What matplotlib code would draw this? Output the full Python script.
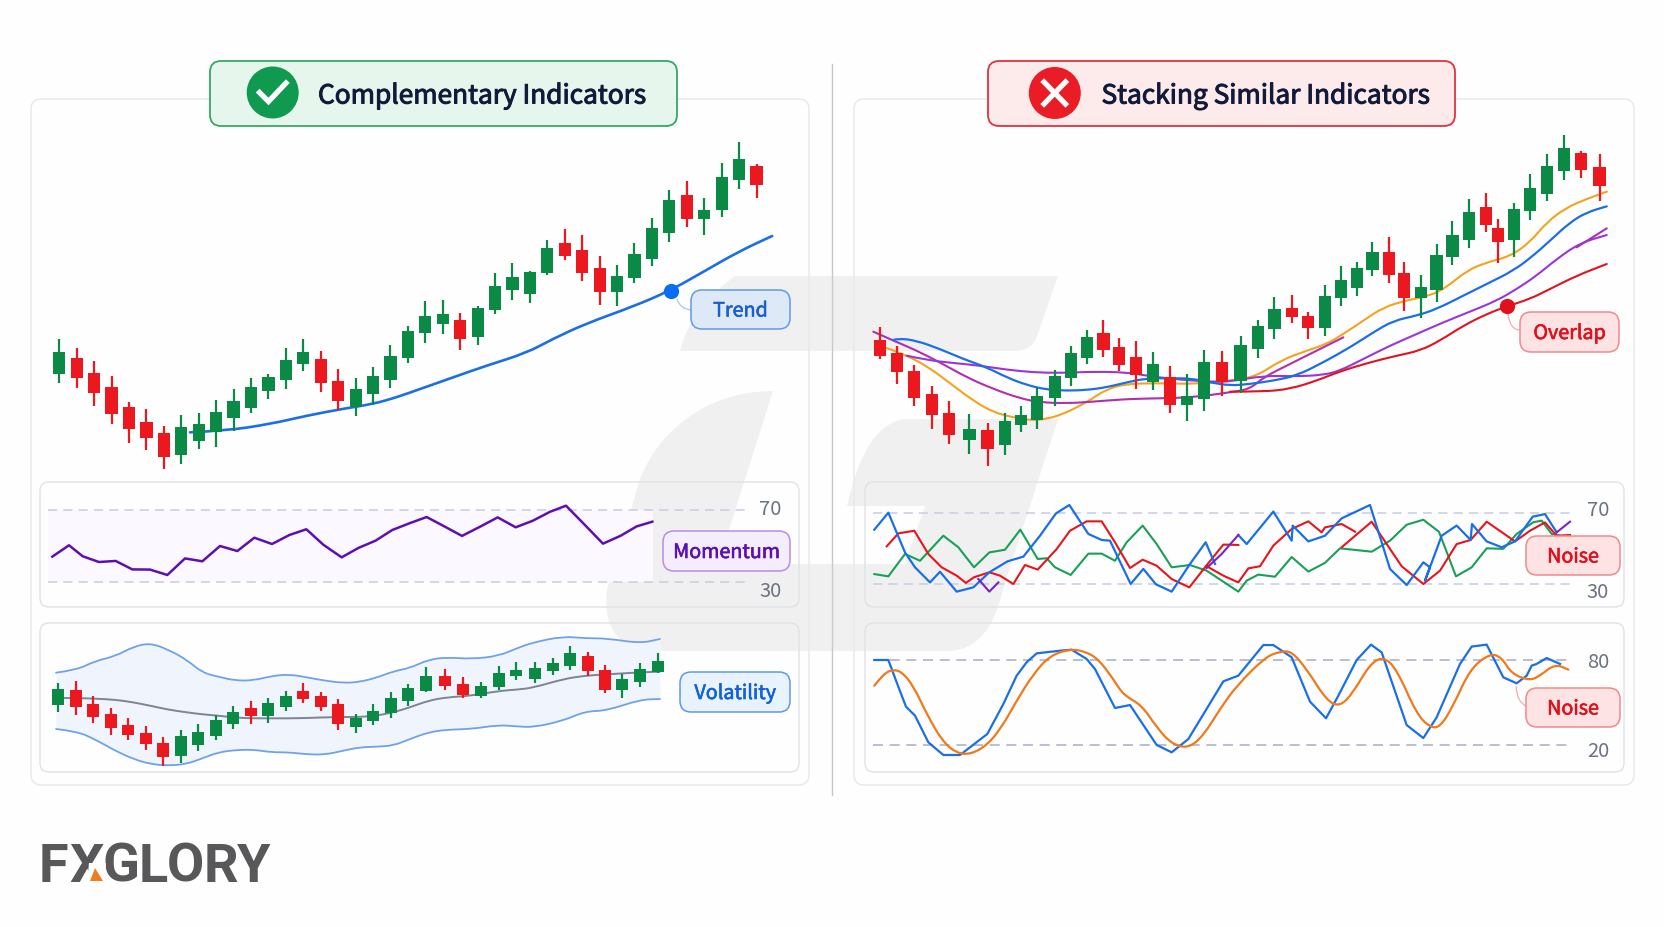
import numpy as np
import matplotlib
matplotlib.use("Agg")
import matplotlib.pyplot as plt
import matplotlib.patheffects as pe
from matplotlib.patches import FancyBboxPatch, PathPatch, Circle, Polygon
from matplotlib.path import Path

plt.rcParams['font.family'] = ['Noto Sans CJK SC', 'DejaVu Sans']

W, H = 1664, 928
UP = "#0a8a45"
DOWN = "#ec1820"
BLUE = "#1a6fe8"

# left price chart
left_open = [265,313,267,225,165,121,88,21,64,90,134,163,213,247,296,309,244,165,206,246,312,388,416,428,377,457,518,505,569,658,637,582,511,553,611,689,801,730,758,847,890]
left_high = [370,344,303,259,182,160,108,141,147,187,221,253,265,343,371,333,279,253,287,353,409,483,486,447,470,568,597,574,668,700,682,619,593,658,734,818,845,792,897,960,895]
left_low = [238,224,170,115,57,38,-19,-4,39,46,95,148,190,221,273,212,157,138,171,222,297,359,386,338,353,445,488,478,562,606,545,473,469,539,588,662,707,681,735,821,793]
left_close = [331,252,209,144,99,74,17,105,115,151,184,225,255,308,331,237,184,221,258,319,393,440,445,371,463,530,556,572,643,619,567,511,559,626,703,786,731,756,857,911,833]
trend_x = [7.5,9.6,12.1,14.2,16.2,18,19.35,20.7,22.6,24.5,26.8,28.3,30.25,32.9,35,36.9,39,40.9]
trend_y = [90,95,115,140,160,175,195,220,255,290,328,370,417,467,514,570,633,679]

# left momentum
mom_x = [67,117,158,207,257,307,360,412,465,517,570,622,673,726,778,829,880,935,985,1037,1087,1138,1190,1245,1296,1350,1403,1457,1508,1560,1608,1663,1719,1772,1820,1867]
mom_y = [44.1,50.4,44.3,41.1,41.7,37,36.9,33.9,43.1,41.5,50,47.2,54.6,51.1,56.1,59.3,50.7,43.7,48.9,53,58.9,62.6,66.1,60.7,55.6,60.7,65.9,60.4,64,69,72.4,62,51.3,55.7,60.9,63.5]

# left volatility
vol_x = list(range(22)) + [22.1,23.1,24.16,25.16,26.17,27.22,28.25,29.26,30.29,31.22,32.19,33.24,34.29]
vol_open = [322,368,326,294,263,239,207,169,202,229,266,312,288,316,363,348,326,256,275,298,333,365,408,386,350,375,408,401,423,440,468,428,366,390,422]
vol_high = [388,394,348,314,282,260,227,247,264,292,320,333,342,364,387,360,340,295,325,360,386,435,430,406,392,438,452,452,462,498,480,441,415,449,477]
vol_low = [300,292,267,232,218,186,140,148,184,217,251,266,267,305,328,303,248,239,262,282,320,360,366,344,342,368,398,389,411,428,409,358,342,375,417]
vol_close = [370,315,287,254,231,204,167,228,242,278,302,289,327,348,341,317,264,282,305,343,374,408,378,352,378,417,427,433,447,477,425,367,399,430,455]
band_x = [-0.13,1.05,2.10,3.24,4.29,5.24,6.29,7.33,8.23,9.14,10.13,11.18,12.19,13.2,14.19,15.24,16.29,17.2,18.19,19.14,20.1,21.14,22.19,23.62,25.15,26.19,27.15,28.86,30.1,31.34,33.24,34.38]
band_up = [419,427,454,468,497,508,488,458,419,407,395,396,409,414,405,395,388,391,404,423,433,458,465,460,469,492,510,528,522,522,507,520]
band_lo = [250,243,219,185,160,145,140,145,162,180,187,188,180,180,174,173,185,195,197,200,220,240,248,250,262,258,255,275,303,305,338,340]
band_mid = [343,343,341,338,330,320,308,300,294,290,284,282,282,282,283,285,286,286,290,300,315,335,345,350,364,368,374,400,410,414,420,422]

# right price chart
right_x = [0,1.02,2.04,3.08,4.12,5.34,6.42,7.46,8.42,9.40,10.46,11.42,12.40,13.36,14.30,15.32,16.35,17.33,18.35,19.39,20.47,21.57,22.60,23.60,24.63,25.63,26.65,27.59,28.53,29.47,30.44,31.38,32.36,33.31,34.26,35.26,36.28,36.99,37.93,38.91,39.91,40.93,41.95,43.07]
right_open = [337,297,243,175,117,38,67,21,83,96,162,223,284,358,317,287,210,227,141,159,272,213,310,370,432,409,373,463,494,547,600,537,462,488,585,638,736,673,638,725,774,843,898,857]
right_high = [377,320,263,199,153,114,87,117,140,192,247,320,366,396,342,334,302,259,236,307,304,348,398,466,471,420,501,559,572,631,647,571,531,625,693,759,779,701,749,836,895,953,905,896]
right_low = [280,204,138,71,24,-5,-40,-7,62,70,139,198,264,287,245,189,186,118,93,125,168,178,282,341,388,340,349,438,469,530,507,423,402,450,561,614,661,569,586,698,753,816,824,755]
right_close = [288,240,162,111,52,71,10,95,112,170,228,297,345,307,261,232,264,143,169,270,212,321,378,429,405,372,469,516,554,601,533,463,496,592,653,721,681,632,729,793,858,913,847,799]

ma_orange_x = [0.38,1.38,2.77,4.37,5.57,6.77,7.96,8.96,9.96,10.96,12.36,13.55,14.75,15.95,17.35,18.74,20.94,22.54,23.93,25.53,26.73,27.73,28.92,30.12,31.52,32.92,33.91,35.11,36.31,37.71,38.9,39.9,41.1,42.3,43.5]
ma_orange_y = [313,295,260,200,155,120,105,96,100,115,150,190,205,207,207,205,215,228,275,305,325,355,395,435,456,470,495,545,570,588,630,690,735,760,782]
ma_blue_x = [0.78,1.08,2.18,3.57,4.97,6.37,7.56,8.76,9.96,11.16,12.36,13.55,14.75,15.95,17.35,18.54,19.74,20.94,22.14,23.53,24.93,26.53,28.13,29.52,30.72,32.12,33.32,34.91,36.31,37.91,39.1,40.1,41.3,42.3,43.5]
ma_blue_y = [337,342,335,310,280,255,225,202,188,185,187,195,210,222,222,222,210,200,205,215,230,270,315,360,395,410,430,470,505,545,590,635,690,720,738]
ma_violet_x = [1.58,2.77,4.37,5.97,7.56,9.16,10.76,12.75,14.75,15.95,17.15,18.74,19.94,20.94,22.94,24.93,26.53,27.53,28.92,30.52,32.12,33.71,35.31,36.91,38.11,39.3,40.5,41.9,43.5]
ma_violet_y = [290,277,268,260,248,240,238,242,240,230,222,215,212,212,230,228,232,245,280,320,355,390,422,455,490,530,580,628,652]
ma_magenta_x = [-0.42,0.78,1.98,3.57,5.17,6.77,8.36,9.56,11.16,12.75,14.75,16.75,18.74,20.94,22.14,22.94,24.53,26.13,27.73,30,41.7,43.5]
ma_magenta_y = [362,335,310,270,225,190,162,150,147,152,160,162,165,180,190,225,265,305,345,np.nan,615,672]
ma_red_x = [20.94,22.94,24.53,26.13,27.53,29.32,30.92,32.32,33.51,34.91,36.31,37.51,38.9,40.1,41.7,43.5]
ma_red_y = [182,182,190,215,243,270,290,305,335,380,415,438,460,490,530,565]

# right rsi
rsi_blue_x = [43,85,135,165,210,240,290,340,388,443,490,540,588,628,685,725,750,812,850,888,935,990,1037,1065,1100,1135,1160,1240,1295,1298,1345,1395,1445,1530,1590,1640,1690,1710,1695,1745,1790,1832,1836,1880,1925,1965,2018,2055,2090]
rsi_blue_y = [60.6,70.2,47.8,39.4,30.9,36.9,25.7,28.1,36.6,42.8,45.4,57.2,69.8,74.5,58.2,54.8,54.4,30,38.5,29.8,25.7,41.3,53.5,41.3,np.nan,57.6,52.5,70.8,54.4,62.9,54,57.2,67,74.5,38.5,29.4,42.2,39.4,31.9,57.2,62.9,54.8,63.8,54,50.7,54,67.9,69.4,59.1]
rsi_green_x = [43,85,135,180,250,295,342,388,435,481,533,560,585,632,685,725,765,800,848,890,935,990,1040,1135,1160,1195,1245,1295,1345,1395,1440,1535,1590,1640,1690,1737,1788,1835,1880,1930,1970,2020,2045,2075,2100]
rsi_green_y = [35.6,34.3,46.9,43.1,57.2,50.7,39.4,47.8,49.3,60.6,44.1,44.5,39.4,35.1,47.1,47.1,43.1,53.5,62.9,52.5,39.4,40.7,37.5,25.7,31.9,35.3,34.1,45.2,37,41.9,50.1,48.2,54.4,63.4,66.2,59.4,34.3,39.4,50.1,49.8,58.2,64.8,65.7,58.2,57.2]
rsi_red_x = [80,115,163,205,245,290,318,342,388,420,460,495,533,590,630,680,725,765,810,848,890,935,988,1035,1090,1135,1138,1040,1090,1135,1165,1200,1240,1295,1345,1385,1395,1445,1485,1490,1445,1535,1625,1690,1740,1790,1832,1880,1965,2010,2055,2090,2130]
rsi_red_y = [51.2,58.5,60,46.9,39.4,34.7,30.6,33.8,36.6,34.7,30,40.7,38.1,49.7,60,65.3,65.3,53.5,39,43.7,40.3,32.8,28.1,39.4,52.2,52,np.nan,40,34.7,30.9,38.8,40,51.6,61,65.3,59.1,61.9,63.8,59.5,np.nan,50.7,65.1,40,30,37.5,52.5,54.8,65.1,54,60,64.7,57.2,57.6]
rsi_purple_x = [355,388,415,420,1040,1085,1135,1140,2090,2130]
rsi_purple_y = [32.8,25.7,30.9,np.nan,39,46.9,57.6,np.nan,59.1,65.1]

# right stochastic
stoch_fast_x = [43,85,110,138,165,205,250,300,345,382,430,470,500,530,600,635,680,705,765,810,890,935,985,1090,1135,1210,1240,1295,1350,1398,1435,1490,1533,1565,1640,1690,1730,1800,1835,1880,1930,1970,2000,2015,2030,2060,2100]
stoch_fast_y = [80,80,64.2,46.9,40.6,21.7,12.7,12.7,20.9,27.6,48.8,68.9,78.4,84.7,86.6,87.3,80.7,73.6,46,48.1,19.8,14.6,24,64.9,68.9,90.6,90.6,81.9,50.5,38.7,54.7,80,90.9,85.4,33.9,24.7,39.4,77.2,89.5,90.9,67.7,63.5,68.9,76,77.2,81.4,77.2]
stoch_slow_x = [43,70,98,125,160,205,250,290,330,380,425,470,520,570,630,675,715,760,790,845,890,935,985,1030,1080,1130,1215,1260,1295,1340,1400,1440,1480,1530,1570,1610,1670,1710,1740,1780,1830,1890,1925,1955,2010,2040,2085,2125]
stoch_slow_y = [61.8,70.1,73.2,71.7,61.8,39.4,21.7,14.1,13.1,19.3,32.3,51.2,70.1,83.1,87.8,86.1,80.7,66.5,55.2,48.1,32.3,20.5,17.4,26.4,45.3,61.8,81.9,86.1,86.1,73.6,51.2,46.9,57.1,77.2,82.4,73.6,41.7,32.3,32.3,47.6,73.6,84.7,81.9,70.1,65.4,68.9,77.2,73.2]

logo_letters = ["F", "X", "G", "L", "O", "R", "Y"]


def pane(x0, y0, x1, y1, xlim, ylim, z=2):
    ax = fig.add_axes([x0 / W, 1 - y1 / H, (x1 - x0) / W, (y1 - y0) / H], zorder=z)
    ax.set_xlim(xlim)
    ax.set_ylim(ylim)
    ax.axis("off")
    ax.patch.set_alpha(0)
    return ax


def ref_lim(y0, y1, pa, va, pb, vb):
    # ylim for a pane from two known levels
    k = (va - vb) / (pa - pb)
    return (va + (y1 - pa) * k, va + (y0 - pa) * k)


def candles(ax, x, o, h, l, c, width):
    x, o, h, l, c = map(np.asarray, (x, o, h, l, c))
    colors = [UP if cc >= oo else DOWN for oo, cc in zip(o, c)]
    ax.vlines(x, l, h, colors=colors, lw=1.6, zorder=3)
    ax.bar(x, np.abs(c - o), width=width, bottom=np.minimum(o, c), color=colors, linewidth=0, zorder=4)


def smooth(ax, x, y, color, lw, z=2):
    # rounded path through the read points, breaks at nan
    x = np.asarray(x, float)
    y = np.asarray(y, float)
    ok = ~np.isnan(y)
    for part in np.split(np.arange(len(y)), np.where(~ok)[0]):
        part = part[ok[part]]
        if len(part) < 2:
            continue
        p = np.column_stack([x[part], y[part]])
        verts = [p[0]]
        codes = [Path.MOVETO]
        for i in range(1, len(p) - 1):
            verts += [p[i], (p[i] + p[i + 1]) / 2]
            codes += [Path.CURVE3, Path.CURVE3]
        verts.append(p[-1])
        codes.append(Path.LINETO)
        ax.add_patch(PathPatch(Path(verts, codes), fc="none", ec=color, lw=lw, capstyle="round", zorder=z))


def round_box(ax, x0, y0, x1, y1, r, fc, ec, lw=1.0, z=1):
    ax.add_patch(FancyBboxPatch((x0 + r, y0 + r), x1 - x0 - 2 * r, y1 - y0 - 2 * r,
                                boxstyle=f"round,pad={r}", fc=fc, ec=ec, lw=lw, zorder=z))


def curve(ax, p0, p1, p2, color):
    ax.add_patch(PathPatch(Path([p0, p1, p2], [Path.MOVETO, Path.CURVE3, Path.CURVE3]),
                           fc="none", ec=color, lw=0.9, zorder=2))


def heavy(color, w):
    # the regular cut is a bit light for these labels
    return [pe.withStroke(linewidth=w, foreground=color)]


def tag(ax, x0, y0, x1, y1, text, fc, ec, color):
    round_box(ax, x0, y0, x1, y1, 11, fc, ec, lw=1.1, z=3)
    ax.text((x0 + x1) / 2, (y0 + y1) / 2 - 1, text, color=color, fontsize=14.2,
            ha="center", va="center_baseline", zorder=4, path_effects=heavy(color, 0.45))


fig = plt.figure(figsize=(W / 100, H / 100), dpi=100, facecolor="#fefefe")

# back layer: watermark, frames, headers
back = pane(0, 0, W, H, (0, W), (H, 0), z=0)
wm = "#f0f0f0"
top_bar = [(680, 352), (690, 310), (735, 277), (760, 277), (1058, 277), (1036, 340), (1030, 352), (1015, 352), (680, 352)]
top_code = [Path.MOVETO, Path.CURVE3, Path.CURVE3, Path.LINETO, Path.LINETO, Path.LINETO, Path.CURVE3, Path.CURVE3, Path.CLOSEPOLY]
back.add_patch(PathPatch(Path(top_bar, top_code), fc=wm, ec="none", zorder=0))
g_pts = [(773, 392), (700, 392), (655, 440), (640, 480), (607, 590), (600, 652), (660, 652), (950, 652),
         (990, 650), (1003, 590), (1058, 420), (905, 420), (865, 425), (847, 507), (925, 507), (905, 565),
         (718, 565), (773, 392)]
g_code = [Path.MOVETO, Path.CURVE4, Path.CURVE4, Path.CURVE4, Path.LINETO, Path.CURVE3, Path.CURVE3, Path.LINETO,
          Path.CURVE3, Path.CURVE3, Path.LINETO, Path.LINETO, Path.CURVE3, Path.CURVE3, Path.LINETO, Path.LINETO,
          Path.LINETO, Path.CLOSEPOLY]
back.add_patch(PathPatch(Path(g_pts, g_code), fc=wm, ec="none", zorder=0))

round_box(back, 31, 100, 809, 786, 10, "none", "#e6e8ea")
round_box(back, 854, 100, 1634, 786, 10, "none", "#e6e8ea")
for px0, px1 in [(40, 799), (865, 1624)]:
    round_box(back, px0, 483, px1, 608, 9, "none", "#dfe2e7")
    round_box(back, px0, 624, px1, 773, 9, "none", "#dfe2e7")
back.plot([832, 832], [65, 796], color="#c8c8c8", lw=1.0, zorder=1)

round_box(back, 210, 62, 677, 127, 11, "#e6f6ec", "#35a864", lw=1.3, z=2)
back.add_patch(Circle((272.7, 93.5), 26, fc="#0f9a50", ec="none", zorder=3))
back.plot([259.5, 268.5, 286], [93.5, 102.5, 84], color="white", lw=3.8, solid_joinstyle="miter", zorder=4)
back.text(318, 94, "Complementary Indicators", color="#111a3a", fontsize=18.9,
          ha="left", va="center_baseline", zorder=4, path_effects=heavy("#111a3a", 0.7))

round_box(back, 988, 62, 1455, 127, 11, "#fdeaea", "#e2323c", lw=1.3, z=2)
back.add_patch(Circle((1054.8, 94), 26, fc="#ea1c26", ec="none", zorder=3))
back.plot([1044, 1065.5], [83, 105], color="white", lw=3.8, zorder=4)
back.plot([1044, 1065.5], [105, 83], color="white", lw=3.8, zorder=4)
back.text(1101.5, 94, "Stacking Similar Indicators", color="#111a3a", fontsize=18.9,
          ha="left", va="center_baseline", zorder=4, path_effects=heavy("#111a3a", 0.7))

# logo, letter by letter because the mark is set very tight
for letter, lx in zip(logo_letters, [53, 87, 121, 153, 185, 221, 254]):
    back.text(lx, 882, letter, color="#58585a", fontsize=39, fontweight="bold", family="Roboto",
              ha="center", va="baseline", zorder=4)
back.add_patch(Polygon([(89, 864), (106, 864), (104, 884), (87, 884)], fc="#fefefe", ec="none", zorder=5))
back.add_patch(Polygon([(90, 882), (95, 869), (103, 882)], fc="#ee7d22", ec="none", zorder=6))

# left price
ax = pane(30, 130, 810, 480, ((30 - 59.3) / 17.43, (810 - 59.3) / 17.43), (-50, 1000))
smooth(ax, trend_x, trend_y, BLUE, 1.9)
candles(ax, range(len(left_open)), left_open, left_high, left_low, left_close, 0.7)
ax.plot([35.07], [514], "o", color="#0a6cf0", ms=11, mec="none", zorder=5)

# left momentum
ax = pane(30, 480, 810, 610, (0, 2340), ref_lim(480, 610, 511, 70, 583, 30))
ax.fill_between([54, 1870], 30, 70, color="#fbf9ff", lw=0, zorder=1)
ax.plot([54, 2160], [70, 70], color="#c5cde0", lw=1.1, dashes=(6, 4), zorder=2)
ax.plot([54, 2160], [30, 30], color="#c5cde0", lw=1.1, dashes=(6, 4), zorder=2)
ax.plot(mom_x, mom_y, color="#5f0fb0", lw=1.8, zorder=3)

# left volatility
ax = pane(30, 480, 810, 780, ((30 - 58.3) / 17.5, (810 - 58.3) / 17.5), (100, 1000))
ax.fill_between(band_x, band_lo, band_up, color="#f0f5fd", lw=0, zorder=1)
smooth(ax, band_x, band_up, "#6ea2ea", 1.3)
smooth(ax, band_x, band_lo, "#6ea2ea", 1.3)
smooth(ax, band_x, band_mid, "#7c8592", 1.4)
candles(ax, vol_x, vol_open, vol_high, vol_low, vol_close, 0.69)

# right price
ax = pane(810, 120, 1640, 480, ((810 - 880.3) / 16.7, (1640 - 880.3) / 16.7), (-80, 1000))
smooth(ax, ma_orange_x, ma_orange_y, "#f5a31f", 1.5)
smooth(ax, ma_magenta_x, ma_magenta_y, "#b02fb0", 1.5)
smooth(ax, ma_violet_x, ma_violet_y, "#9b35d8", 1.5)
smooth(ax, ma_red_x, ma_red_y, "#e0141e", 1.5)
smooth(ax, ma_blue_x, ma_blue_y, BLUE, 1.6)
candles(ax, right_x, right_open, right_high, right_low, right_close, 0.73)
ax.plot([37.55], [440], "o", color="#e0101c", ms=11, mec="none", zorder=5)

# right rsi
ax = pane(860, 480, 1640, 610, (0, 2340), ref_lim(480, 610, 514, 70, 585, 30))
ax.plot([39, 2139], [70, 70], color="#c5cde0", lw=1.1, dashes=(6, 4), zorder=1)
ax.plot([39, 2139], [30, 30], color="#c5cde0", lw=1.1, dashes=(6, 4), zorder=1)
ax.plot(rsi_green_x, rsi_green_y, color="#18a058", lw=1.5, zorder=2)
ax.plot(rsi_red_x, rsi_red_y, color="#e8141c", lw=1.5, zorder=3)
ax.plot(rsi_blue_x, rsi_blue_y, color=BLUE, lw=1.6, zorder=4)
ax.plot(rsi_purple_x, rsi_purple_y, color="#7a22c8", lw=1.5, zorder=5)

# right stochastic
ax = pane(860, 620, 1640, 780, (0, 2340), ref_lim(620, 780, 661, 80, 745.7, 20))
ax.plot([39, 2139], [80, 80], color="#aab4cf", lw=1.2, dashes=(6, 4), zorder=1)
ax.plot([39, 2139], [20, 20], color="#aab4cf", lw=1.2, dashes=(6, 4), zorder=1)
ax.plot(stoch_fast_x, stoch_fast_y, color=BLUE, lw=1.6, zorder=2)
smooth(ax, stoch_slow_x, stoch_slow_y, "#f0791a", 1.6, z=3)

# front layer: level numbers and tags
front = pane(0, 0, W, H, (0, W), (H, 0), z=5)
for x, y, s in [(781.5, 507, "70"), (781.5, 589, "30"), (1609, 508, "70"), (1609, 590, "30"),
                (1609, 660, "80"), (1609, 749, "20")]:
    front.text(x, y, s, color="#6b7280", fontsize=14.5, ha="right", va="center_baseline")

curve(front, (677, 300), (680, 310), (691, 311), "#a9c7f0")
curve(front, (1508, 315), (1510, 331), (1520, 331), "#f3a9ad")
curve(front, (1516, 687), (1517, 703), (1526, 707), "#f3a9ad")

tag(front, 691, 291, 790, 330, "Trend", "#dde9f7", "#5d9ae8", "#1a5fd0")
tag(front, 663, 532, 790, 572, "Momentum", "#f4eefc", "#b98ce8", "#5b10b5")
tag(front, 680, 673, 790, 713, "Volatility", "#e9f3fd", "#5d9ae8", "#1160e0")
tag(front, 1520, 313, 1619, 353, "Overlap", "#fde3e3", "#ef8a90", "#e0101c")
tag(front, 1526, 537, 1620, 576, "Noise", "#fde3e3", "#ef8a90", "#e0101c")
tag(front, 1526, 689, 1620, 728, "Noise", "#fde3e3", "#ef8a90", "#e0101c")

fig.savefig("out.png", dpi=100, facecolor=fig.get_facecolor())
